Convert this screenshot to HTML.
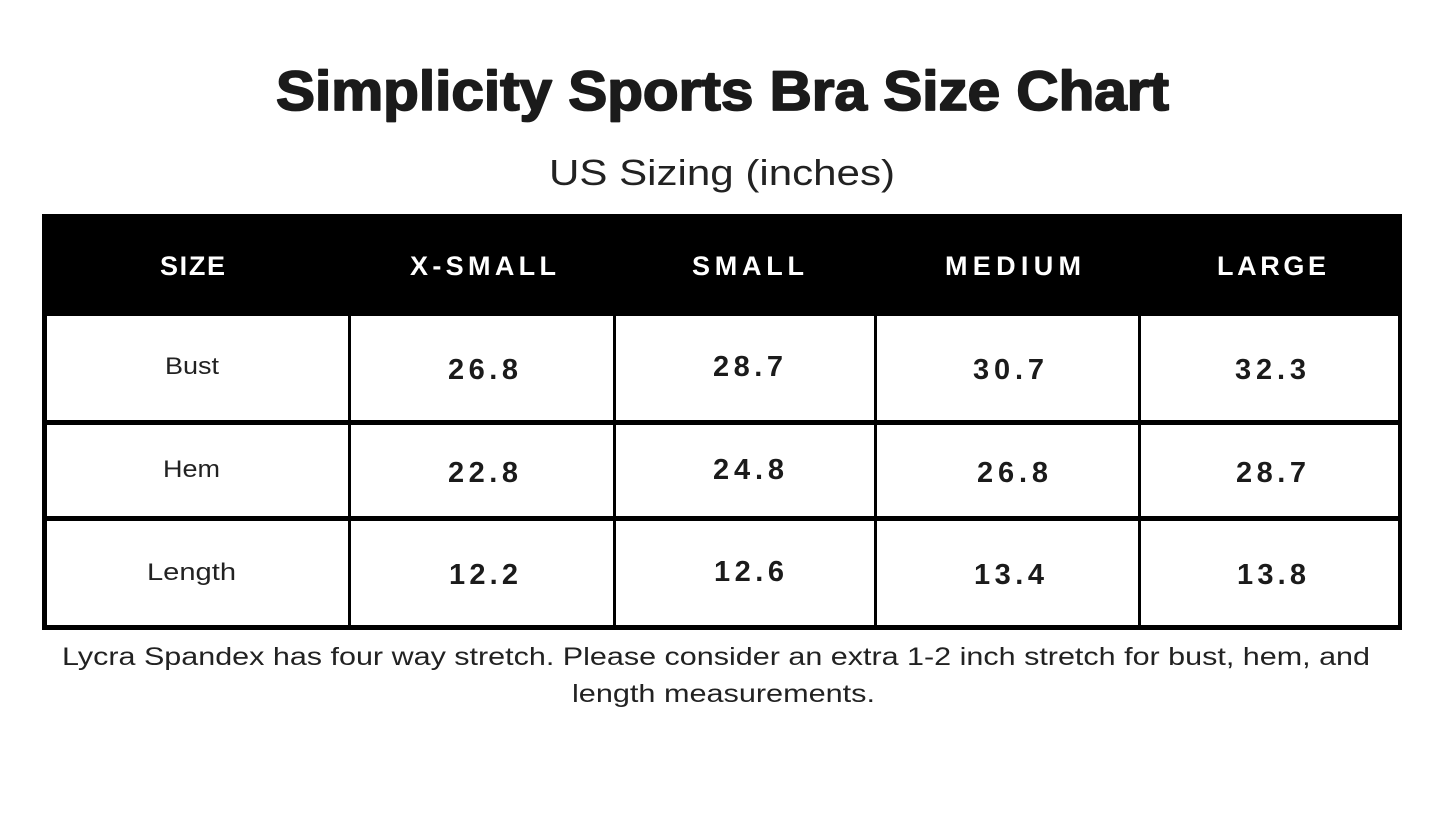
<!DOCTYPE html>
<html>
<head>
<meta charset="utf-8">
<style>
  html,body{margin:0;padding:0;background:#fff;}
  body{width:1445px;height:813px;overflow:hidden;}
  svg{display:block;}
  .t{font-family:"Liberation Sans",Arial,sans-serif;}
</style>
</head>
<body>
<svg width="1445" height="813" viewBox="0 0 1445 813" xmlns="http://www.w3.org/2000/svg">
  <rect x="0" y="0" width="1445" height="813" fill="#ffffff"/>

  <!-- Title -->
  <text class="t" x="276" y="110" font-size="56" font-weight="bold" fill="#1b1b1b" stroke="#1b1b1b" stroke-width="1.8" stroke-linejoin="round" textLength="893" lengthAdjust="spacingAndGlyphs">Simplicity Sports Bra Size Chart</text>
  <!-- Subtitle -->
  <text class="t" x="549" y="185" font-size="36" fill="#222" textLength="346" lengthAdjust="spacingAndGlyphs">US Sizing (inches)</text>

  <!-- Table header -->
  <rect x="42" y="214" width="1360" height="102" fill="#000"/>
  <!-- Borders -->
  <rect x="42" y="214" width="5" height="416" fill="#000"/>
  <rect x="1398" y="214" width="4" height="416" fill="#000"/>
  <rect x="348" y="316" width="3" height="314" fill="#000"/>
  <rect x="613" y="316" width="3" height="314" fill="#000"/>
  <rect x="874" y="316" width="3" height="314" fill="#000"/>
  <rect x="1138" y="316" width="3" height="314" fill="#000"/>
  <rect x="42" y="420" width="1360" height="5" fill="#000"/>
  <rect x="42" y="516" width="1360" height="5" fill="#000"/>
  <rect x="42" y="625" width="1360" height="5" fill="#000"/>

  <!-- Header labels -->
  <g class="t" font-size="27" font-weight="bold" fill="#fff">
    <text x="160" y="275" textLength="65" lengthAdjust="spacing">SIZE</text>
    <text x="410" y="275" textLength="146" lengthAdjust="spacing">X-SMALL</text>
    <text x="692" y="275" textLength="112" lengthAdjust="spacing">SMALL</text>
    <text x="945" y="275" textLength="136" lengthAdjust="spacing">MEDIUM</text>
    <text x="1217" y="275" textLength="109" lengthAdjust="spacing">LARGE</text>
  </g>

  <!-- Row labels -->
  <g class="t" font-size="24" fill="#222">
    <text x="165" y="374" textLength="54" lengthAdjust="spacingAndGlyphs">Bust</text>
    <text x="163" y="477" textLength="57" lengthAdjust="spacingAndGlyphs">Hem</text>
    <text x="147" y="580" textLength="89" lengthAdjust="spacingAndGlyphs">Length</text>
  </g>

  <!-- Values -->
  <g class="t" font-size="29" font-weight="bold" fill="#1b1b1b">
    <text x="448" y="379" textLength="70" lengthAdjust="spacing">26.8</text>
    <text x="713" y="376" textLength="70" lengthAdjust="spacing">28.7</text>
    <text x="973" y="379" textLength="71" lengthAdjust="spacing">30.7</text>
    <text x="1235" y="379" textLength="71" lengthAdjust="spacing">32.3</text>

    <text x="448" y="482" textLength="70" lengthAdjust="spacing">22.8</text>
    <text x="713" y="479" textLength="71" lengthAdjust="spacing">24.8</text>
    <text x="977" y="482" textLength="71" lengthAdjust="spacing">26.8</text>
    <text x="1236" y="482" textLength="70" lengthAdjust="spacing">28.7</text>

    <text x="449" y="584" textLength="69" lengthAdjust="spacing">12.2</text>
    <text x="714" y="581" textLength="70" lengthAdjust="spacing">12.6</text>
    <text x="974" y="584" textLength="70" lengthAdjust="spacing">13.4</text>
    <text x="1237" y="584" textLength="69" lengthAdjust="spacing">13.8</text>
  </g>

  <!-- Footer note -->
  <g class="t" font-size="25" fill="#222">
    <text x="62" y="665" textLength="1308" lengthAdjust="spacingAndGlyphs">Lycra Spandex has four way stretch. Please consider an extra 1-2 inch stretch for bust, hem, and</text>
    <text x="572" y="702" textLength="303" lengthAdjust="spacingAndGlyphs">length measurements.</text>
  </g>
</svg>
</body>
</html>
